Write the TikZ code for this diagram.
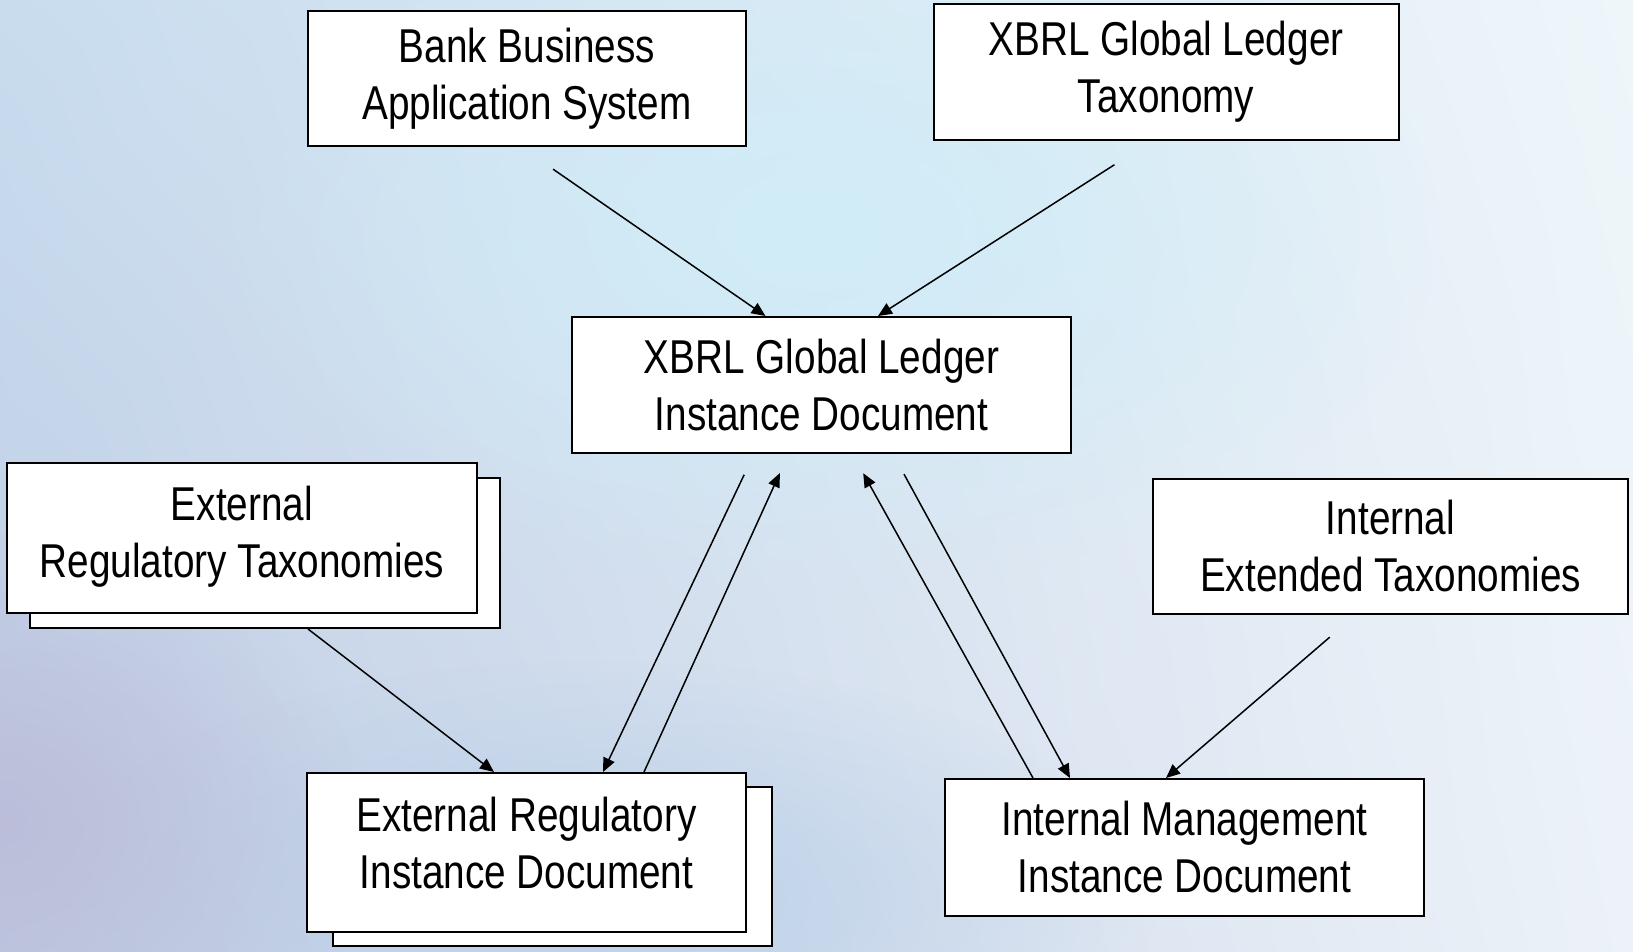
\documentclass[tikz,border=0pt]{standalone}
\usepackage{fontspec}
\setmainfont[FakeStretch=0.815]{Liberation Sans}
\usetikzlibrary{arrows.meta}
\usetikzlibrary{calc}
\usetikzlibrary{shadings}
\usetikzlibrary{fadings}
\definecolor{bgtl}{HTML}{C8DCEE}
\definecolor{bgtr}{HTML}{EEF6FA}
\definecolor{bgbl}{HTML}{BFCBE3}
\definecolor{bgbr}{HTML}{ECF2F8}
\definecolor{glowcyan}{HTML}{D0EDF8}
\definecolor{glowblue}{HTML}{B6CFE8}
\definecolor{glowlav}{HTML}{BBBCD8}
\tikzfading[name=glowfade, inner color=transparent!0, outer color=transparent!100]

\begin{document}
\begin{tikzpicture}[x=1pt,y=-1pt,
	box/.style={draw=black, line width=2pt, fill=white, align=center, inner sep=0pt,
		font=\fontsize{47.5}{57}\selectfont},
	flow/.style={line width=1.5pt, -{Triangle[length=14pt,width=12pt]}}]
	%% background
	\useasboundingbox (0,0) rectangle (1633,951);
	\begin{scope}
	\clip (0,0) rectangle (1633,951);
	\shade[upper left=bgtl, upper right=bgtr, lower left=bgbl, lower right=bgbr] (0,0) rectangle (1633,951);
	\fill[glowcyan, path fading=glowfade] (820,230) ellipse [x radius=620, y radius=360];
	\fill[glowblue, path fading=glowfade, opacity=0.8] (600,900) ellipse [x radius=560, y radius=240];
	\fill[glowlav, path fading=glowfade, opacity=0.9] (0,820) ellipse [x radius=360, y radius=300];
	\end{scope}
	%% boxes
	\node[box, minimum width=438pt, minimum height=135pt] (bank) at (527,78.5) {Bank Business\\Application System};
	\node[box, minimum width=465pt, minimum height=136pt] (glt) at (1166,72) {XBRL Global Ledger\\Taxonomy};
	\node[box, minimum width=499pt, minimum height=136pt] (gli) at (821.5,385) {XBRL Global Ledger\\Instance Document};
	\node[box, minimum width=470pt, minimum height=150pt] (ertaxback) at (265,553) {};
	\node[box, minimum width=470pt, minimum height=150pt, text depth=12pt] (ertax) at (242,538) {External\\Regulatory Taxonomies};
	\node[box, minimum width=475pt, minimum height=135pt] (ietax) at (1390.5,546.5) {Internal\\Extended Taxonomies};
	\node[box, minimum width=439pt, minimum height=159pt] (erinstback) at (552.5,866.5) {};
	\node[box, minimum width=439pt, minimum height=159pt, text depth=20pt] (erinst) at (526.5,852.5) {External Regulatory\\Instance Document};
	\node[box, minimum width=479pt, minimum height=137pt] (imgmt) at (1184.5,847.5) {Internal Management\\Instance Document};
	%% arrows
	\draw[flow, shorten <=39pt] ($(bank.south)+(-6,0)$) -- ($(gli.north)+(-56,0)$);
	\draw[flow, shorten <=44pt] ($(glt.south)+(-14.5,0)$) -- ($(gli.north)+(56.5,0)$);
	\draw[flow, shorten <=23pt] ($(gli.south)+(-67.5,0)$) -- ($(erinst.north)+(76.5,0)$);
	\draw[flow, shorten >=21pt] ($(erinst.north)+(117.5,0)$) -- ($(gli.south)+(-33,0)$);
	\draw[flow, shorten >=22pt] ($(imgmt.north)+(-151.5,0)$) -- ($(gli.south)+(31,0)$);
	\draw[flow, shorten <=23pt] ($(gli.south)+(71.5,0)$) -- ($(imgmt.north)+(-114.5,0)$);
	\draw[flow] ($(ertaxback.south)+(43,0)$) -- ($(erinst.north)+(-32.5,0)$);
	\draw[flow, shorten <=34pt] ($(ietax.south)+(-35,0)$) -- ($(imgmt.north)+(-18.5,0)$);
\end{tikzpicture}
\end{document}
